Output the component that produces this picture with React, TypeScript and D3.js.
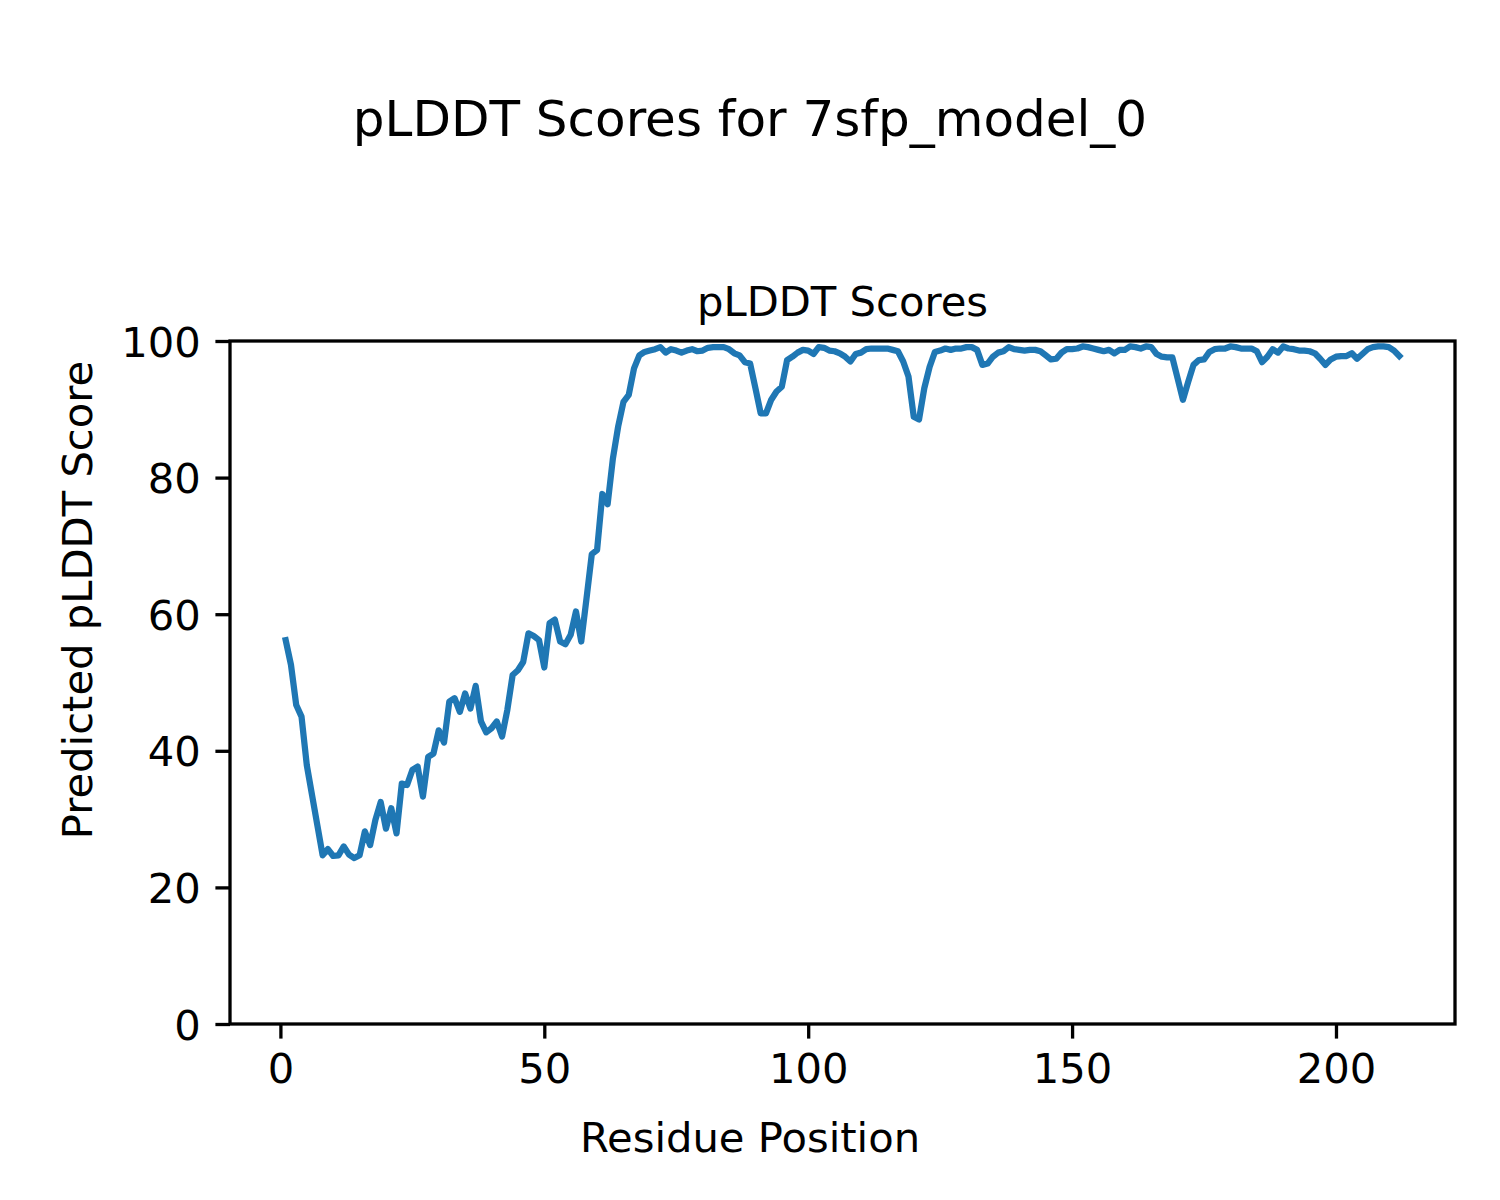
import { useEffect, useRef } from "react";
import * as d3 from "d3";

// pLDDT per residue (residues 1..212)
const plddt = [
  56.2, 52.6, 46.7, 45.0, 37.9, 33.5, 29.1, 24.7, 25.6, 24.6,
  24.7, 26.0, 24.8, 24.3, 24.7, 28.2, 26.2, 29.9, 32.5, 28.6,
  31.6, 27.9, 35.2, 35.0, 37.2, 37.7, 33.3, 39.1, 39.6, 43.0,
  41.2, 47.2, 47.7, 45.7, 48.4, 46.2, 49.5, 44.3, 42.7, 43.3,
  44.3, 42.1, 46.0, 51.1, 51.8, 53.0, 57.2, 56.8, 56.2, 52.2,
  58.7, 59.2, 56.0, 55.6, 57.0, 60.4, 56.0, 62.3, 68.8, 69.4,
  77.6, 76.1, 82.8, 87.5, 91.1, 92.1, 96.0, 97.9, 98.4, 98.6,
  98.8, 99.1, 98.3, 98.8, 98.6, 98.3, 98.6, 98.8, 98.5, 98.6,
  99.0, 99.1, 99.1, 99.1, 98.8, 98.2, 97.9, 96.9, 96.7, 93.1,
  89.4, 89.4, 91.4, 92.6, 93.3, 97.2, 97.7, 98.3, 98.7, 98.6,
  98.1, 99.1, 99.0, 98.6, 98.5, 98.2, 97.7, 97.0, 98.1, 98.3,
  98.8, 98.9, 98.9, 98.9, 98.9, 98.7, 98.5, 97.0, 94.8, 88.9,
  88.5, 93.1, 96.2, 98.4, 98.6, 98.9, 98.7, 98.9, 98.9, 99.1,
  99.1, 98.7, 96.5, 96.7, 97.7, 98.3, 98.5, 99.1, 98.8, 98.7,
  98.6, 98.7, 98.7, 98.5, 97.9, 97.3, 97.4, 98.3, 98.8, 98.8,
  98.9, 99.2, 99.1, 98.9, 98.7, 98.5, 98.7, 98.2, 98.7, 98.7,
  99.2, 99.1, 98.9, 99.2, 99.1, 98.1, 97.7, 97.6, 97.6, 94.5,
  91.4, 94.0, 96.5, 97.2, 97.3, 98.4, 98.8, 98.9, 98.9, 99.2,
  99.1, 98.9, 98.9, 98.9, 98.5, 96.9, 97.7, 98.8, 98.3, 99.2,
  98.9, 98.8, 98.6, 98.6, 98.5, 98.2, 97.4, 96.5, 97.3, 97.7,
  97.8, 97.8, 98.2, 97.4, 98.1, 98.8, 99.1, 99.2, 99.2, 99.1,
  98.6, 97.8,
];
const xTicks = [0, 50, 100, 150, 200];
const yTicks = [0, 20, 40, 60, 80, 100];

const W = 1500;
const H = 1200;
const FONT = "DejaVu Sans, sans-serif";
const FS = 41.7; // 10pt at 300 dpi

export default function App() {
  const ref = useRef<SVGSVGElement>(null);

  useEffect(() => {
    const svg = d3.select(ref.current);
    svg.selectAll("*").remove();

    const left = 230, right = 1455, top = 341, bottom = 1024;
    const n = plddt.length;
    const pad = (n - 1) * 0.05;
    const x = d3.scaleLinear().domain([1 - pad, n + pad]).range([left, right]);
    const y = d3.scaleLinear().domain([0, 100]).range([bottom, top]);

    svg.append("rect").attr("width", W).attr("height", H).attr("fill", "#fff");

    const line = d3
      .line<number>()
      .x((_, i) => x(i + 1))
      .y((d) => y(d));

    svg
      .append("path")
      .datum(plddt)
      .attr("d", line)
      .attr("fill", "none")
      .attr("stroke", "#1f77b4")
      .attr("stroke-width", 6.25)
      .attr("stroke-linejoin", "round")
      .attr("stroke-linecap", "square");

    const xAxis = svg
      .append("g")
      .attr("transform", `translate(0,${bottom})`)
      .call(d3.axisBottom(x).tickValues(xTicks).tickSize(14.6).tickPadding(14.6).tickFormat(d3.format("d")));
    const yAxis = svg
      .append("g")
      .attr("transform", `translate(${left},0)`)
      .call(d3.axisLeft(y).tickValues(yTicks).tickSize(14.6).tickPadding(14.6).tickFormat(d3.format("d")));

    [xAxis, yAxis].forEach((g) => {
      g.select(".domain").remove();
      g.selectAll(".tick line").attr("stroke", "#000").attr("stroke-width", 3.3);
      g.selectAll(".tick text")
        .attr("fill", "#000")
        .attr("font-family", FONT)
        .attr("font-size", FS);
    });
    yAxis.selectAll(".tick text").attr("dy", "0.36em");

    svg
      .append("rect")
      .attr("x", left)
      .attr("y", top)
      .attr("width", right - left)
      .attr("height", bottom - top)
      .attr("fill", "none")
      .attr("stroke", "#000")
      .attr("stroke-width", 3.3);

    const text = (tx: number, ty: number, s: string, size: number, rot = 0) =>
      svg
        .append("text")
        .attr("transform", `translate(${tx},${ty}) rotate(${rot})`)
        .attr("text-anchor", "middle")
        .attr("font-family", FONT)
        .attr("font-size", size)
        .attr("fill", "#000")
        .text(s);

    text(750, 136, "pLDDT Scores for 7sfp_model_0", 50);
    text((left + right) / 2, 316, "pLDDT Scores", FS);
    text(750, 1152, "Residue Position", FS);
    text(92, 600, "Predicted pLDDT Score", FS, -90);
  }, []);

  return (
    <svg
      ref={ref}
      width={W}
      height={H}
      style={{ position: "absolute", left: 0, top: 0, display: "block" }}
    />
  );
}
